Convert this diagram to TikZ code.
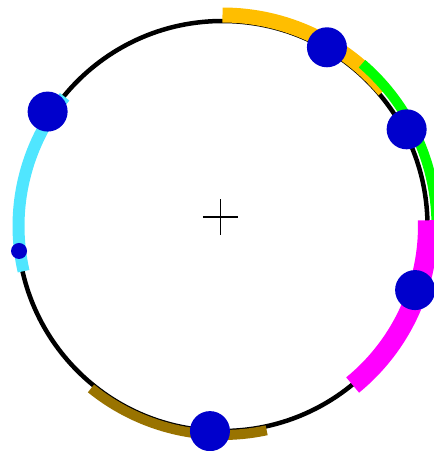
\documentclass[tikz,border=0pt]{standalone}
\usepackage{tikz}
\definecolor{bandorange}{RGB}{255,190,0}
\definecolor{bandgreen}{RGB}{0,255,0}
\definecolor{bandmagenta}{RGB}{255,0,255}
\definecolor{bandcyan}{RGB}{80,230,255}
\definecolor{bandbrown}{RGB}{153,115,0}
\definecolor{dotblue}{RGB}{0,0,204}

\begin{document}
\begin{tikzpicture}[x=1pt, y=1pt,
  backbone/.style={draw=black, line width=4.5pt},
  band/.style={line width=#1},
  dotbig/.style={circle, minimum size=40pt, inner sep=0pt, fill=dotblue},
  dotsmall/.style={circle, minimum size=16pt, inner sep=0pt, fill=dotblue}]

\useasboundingbox (-222.5,-225) rectangle (211.5,226);

% backbone ring
\draw[backbone] (0,0) circle (205);

% feature bands
\draw[band=15pt, bandorange] (40:211) arc[start angle=40, end angle=90, radius=211];
\draw[band=10pt, bandgreen] (-2.5:214) arc[start angle=-2.5, end angle=49.3, radius=214];
\draw[band=20pt, bandmagenta] (-50.7:205.5) arc[start angle=-50.7, end angle=1.6, radius=205.5];
\draw[band=12pt, bandcyan] (140.7:204) arc[start angle=140.7, end angle=192.8, radius=204];
\draw[band=10pt, bandbrown] (231:209) arc[start angle=231, end angle=282.2, radius=209];

% sites
\node[dotbig] (s1) at (59.7:207) {};
\node[dotbig] (s2) at (27.7:208) {};
\node[dotbig] (s3) at (-18.4:203) {};
\node[dotbig] (s4) at (266.5:205.5) {};
\node[dotbig] (s5) at (146.8:209) {};
\node[dotsmall] (s6) at (187:205) {};

% centre mark
\draw[line width=1.8pt] (-19.5,9) -- (15.5,9);
\draw[line width=1.8pt] (-2,27) -- (-2,-9);

\end{tikzpicture}
\end{document}
